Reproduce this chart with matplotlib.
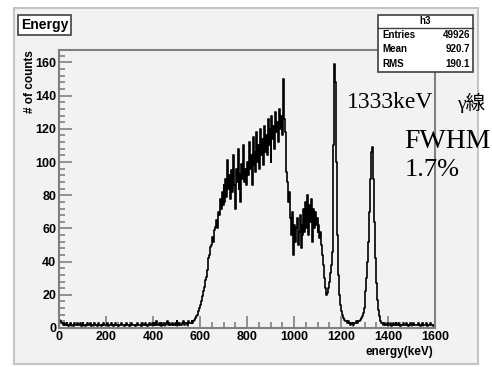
import matplotlib
matplotlib.use("Agg")
import matplotlib.pyplot as plt
import numpy as np
from matplotlib.patches import Rectangle
from matplotlib.ticker import MultipleLocator

# histogram h3, 4 keV bins from 0 to 1600 keV
bin_width = 4
counts = [
    5, 4, 3, 3, 2, 3, 2, 2, 3, 2, 1, 2, 3, 2, 2, 1, 3, 2, 2, 3,
    2, 2, 3, 1, 2, 3, 2, 2, 1, 2, 3, 2, 2, 3, 1, 2, 2, 3, 2, 2,
    1, 2, 3, 2, 2, 1, 2, 3, 2, 2, 2, 3, 1, 2, 2, 3, 2, 1, 2, 2,
    3, 2, 2, 1, 2, 2, 3, 2, 2, 1, 2, 3, 2, 2, 1, 2, 2, 3, 2, 2,
    2, 1, 2, 3, 2, 2, 2, 1, 3, 2, 2, 2, 3, 2, 1, 2, 3, 2, 2, 3,
    2, 3, 2, 4, 2, 2, 3, 2, 3, 1, 2, 3, 2, 2, 3, 4, 2, 3, 2, 2,
    3, 2, 2, 3, 2, 4, 3, 2, 3, 2, 2, 3, 4, 2, 3, 3, 2, 4, 3, 3,
    3, 4, 3, 4, 5, 6, 7, 8, 10, 12, 14, 16, 19, 22, 25, 29, 31, 35, 38, 42,
    44, 49, 50, 55, 52, 59, 61, 65, 60, 70, 68, 78, 72, 82, 74, 86, 76, 90, 79, 101,
    84, 92, 78, 95, 82, 104, 86, 72, 96, 88, 108, 84, 93, 76, 99, 90, 110, 88, 96, 86,
    100, 92, 112, 96, 104, 86, 115, 98, 106, 94, 118, 100, 110, 96, 120, 104, 114, 98, 122, 106,
    116, 104, 126, 110, 120, 100, 128, 114, 122, 108, 130, 118, 124, 112, 132, 120, 128, 116, 150, 126,
    118, 104, 94, 88, 76, 82, 66, 56, 70, 44, 62, 52, 60, 66, 50, 58, 68, 48, 62, 56,
    72, 58, 76, 60, 80, 56, 74, 64, 78, 52, 72, 60, 70, 62, 66, 58, 62, 54, 58, 50,
    44, 38, 30, 24, 20, 21, 24, 28, 33, 38, 46, 68, 110, 159, 148, 100, 56, 32, 20, 14,
    10, 8, 6, 5, 4, 4, 3, 4, 3, 3, 2, 3, 3, 2, 3, 3, 4, 3, 4, 4,
    5, 6, 7, 9, 12, 16, 22, 30, 40, 52, 70, 90, 106, 109, 90, 64, 42, 27, 17, 11,
    7, 5, 4, 3, 3, 2, 3, 2, 2, 3, 2, 2, 3, 1, 2, 3, 2, 2, 3, 2,
    2, 3, 2, 1, 2, 2, 3, 2, 2, 3, 2, 1, 2, 3, 2, 2, 2, 3, 2, 2,
    2, 2, 3, 2, 1, 2, 3, 2, 2, 2, 3, 2, 1, 2, 2, 3, 2, 2, 1, 2,
]
title = "Energy"
stats_name = "h3"
stats_rows = [("Entries", "49926"), ("Mean", "920.7"), ("RMS", "190.1")]
x_ticks = [0, 200, 400, 600, 800, 1000, 1200, 1400, 1600]
y_ticks = [0, 20, 40, 60, 80, 100, 120, 140, 160]

W, H = 492, 367
bg = "#f2f2f2"
fig = plt.figure(figsize=(W / 100, H / 100), dpi=100, facecolor="white")


def fx(px):
    return px / W


def fy(py):
    return 1 - py / H


# ROOT canvas panel
fig.patches.append(Rectangle((fx(14), fy(364)), fx(464), 356 / H, transform=fig.transFigure,
                             facecolor=bg, edgecolor="#c4c4c4", linewidth=1.5, zorder=-5))

ax = fig.add_axes([fx(59), fy(328), fx(376), 278 / H])
ax.set_facecolor(bg)
centers = np.arange(len(counts)) * bin_width + bin_width / 2
ax.step(centers, counts, where="mid", color="black", linewidth=1.2)

ax.set_xlim(0, 1600)
ax.set_ylim(0, 167.5)
ax.set_xticks(x_ticks)
ax.set_yticks(y_ticks)
ax.xaxis.set_minor_locator(MultipleLocator(50))
ax.yaxis.set_minor_locator(MultipleLocator(4))
ax.tick_params(which="both", direction="in", color="#808080", width=1.2)
ax.tick_params(which="major", length=9, labelsize=9, pad=2)
ax.tick_params(which="minor", length=4.5)
for lab in ax.get_xticklabels() + ax.get_yticklabels():
    lab.set_fontweight("bold")
    lab.set_family("Liberation Sans")
for s in ax.spines.values():
    s.set_color("#808080")
    s.set_linewidth(1.5)

fig.text(fx(433), fy(352), "energy(keV)", ha="right", va="center", fontsize=8.5,
         fontweight="bold", family="Liberation Sans")
fig.text(fx(30), fy(50), "# of counts", ha="center", va="top", rotation=90, fontsize=8.5,
         fontweight="bold", family="Liberation Sans")

# title box
fig.text(fx(21), fy(25), title, ha="left", va="center", fontsize=10, fontweight="bold",
         family="Liberation Sans",
         bbox=dict(boxstyle="square,pad=0.2", facecolor="white", edgecolor="#404040", linewidth=1.2))

# stats box
bx0, by0, bx1, by1 = 378, 15, 473, 72
fig.patches.append(Rectangle((fx(bx0), fy(by1)), fx(bx1 - bx0), (by1 - by0) / H,
                             transform=fig.transFigure, facecolor="white",
                             edgecolor="#404040", linewidth=1.2, zorder=5))
fig.lines.append(plt.Line2D([fx(bx0), fx(bx1)], [fy(28), fy(28)], transform=fig.transFigure,
                            color="#404040", linewidth=1.0, zorder=6))
fig.text(fx((bx0 + bx1) / 2), fy(21.5), stats_name, ha="center", va="center", fontsize=7,
         fontweight="bold", family="Liberation Sans", zorder=7)
for i, (k, v) in enumerate(stats_rows):
    yy = fy(35 + i * 14.5)
    fig.text(fx(382), yy, k, ha="left", va="center", fontsize=7, fontweight="bold",
             family="Liberation Sans", zorder=7)
    fig.text(fx(470), yy, v, ha="right", va="center", fontsize=7, fontweight="bold",
             family="Liberation Sans", zorder=7)

# annotations
fam = ["Liberation Serif", "Noto Sans CJK JP"]
fig.text(fx(347), fy(103), "1333keV", ha="left", va="center", fontsize=17, family=fam, zorder=8)
fig.text(fx(457), fy(103), "γ線", ha="left", va="center", fontsize=14, family=fam, zorder=8)
fig.text(fx(404), fy(141), "FWHM", ha="left", va="center", fontsize=20, family=fam, zorder=8)
fig.text(fx(405), fy(170), "1.7%", ha="left", va="center", fontsize=19, family=fam, zorder=8)

fig.savefig("out.png", dpi=100, facecolor="white")
